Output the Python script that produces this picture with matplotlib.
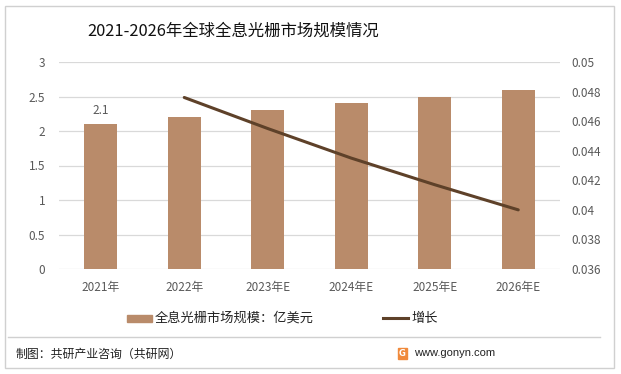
import matplotlib
matplotlib.use("Agg")
import matplotlib.pyplot as plt
from matplotlib.patches import Rectangle
from matplotlib.lines import Line2D

plt.rcParams['font.family'] = ['Noto Sans CJK SC', 'DejaVu Sans']

categories = ["2021年", "2022年", "2023年E", "2024年E", "2025年E", "2026年E"]
market_size = [2.1, 2.2, 2.3, 2.4, 2.5, 2.6]
growth_cats = ["2022年", "2023年E", "2024年E", "2025年E", "2026年E"]
growth = [0.0476, 0.0455, 0.0435, 0.0417, 0.0400]
left_ticks = [0, 0.5, 1, 1.5, 2, 2.5, 3]
right_ticks = [0.036, 0.038, 0.04, 0.042, 0.044, 0.046, 0.048, 0.05]

bar_color = "#B98B6A"
line_color = "#5E4129"
grid_color = "#D9D9D9"
tick_color = "#595959"

W, H = 621, 374
fig = plt.figure(figsize=(W / 100, H / 100), dpi=100)
fig.patch.set_facecolor("white")

# outer border
fig.add_artist(Rectangle((5 / W, 6 / H), 609 / W, 362 / H, transform=fig.transFigure,
                         fill=False, edgecolor="#D0D0D0", linewidth=1.0))

ax = fig.add_axes([59 / W, 1 - 269 / H, 501 / W, 207 / H])
x = list(range(len(categories)))
ax.bar(x, market_size, width=0.4, color=bar_color, zorder=2)
ax.set_xlim(-0.5, len(categories) - 0.5)
ax.set_ylim(0, 3)
ax.set_yticks(left_ticks)
ax.set_yticklabels([f"{t:g}" for t in left_ticks])
ax.set_xticks(x)
ax.set_xticklabels(categories)
ax.tick_params(axis="both", length=0, colors=tick_color, labelsize=8.5)
ax.tick_params(axis="x", pad=9)
ax.tick_params(axis="y", pad=10)
ax.grid(axis="y", color=grid_color, linewidth=0.9, zorder=0)
for s in ax.spines.values():
    s.set_visible(False)
ax.text(x[0], market_size[0] + 0.1, f"{market_size[0]:g}", ha="center", va="bottom",
        fontsize=8.5, color=tick_color)

ax2 = ax.twinx()
gx = [categories.index(c) for c in growth_cats]
ax2.plot(gx, growth, color=line_color, linewidth=2.2, solid_capstyle="round", zorder=3)
ax2.set_ylim(0.036, 0.05)
ax2.set_yticks(right_ticks)
ax2.set_yticklabels([f"{t:g}" for t in right_ticks])
ax2.tick_params(axis="y", length=0, colors=tick_color, labelsize=8.5, pad=8)
for s in ax2.spines.values():
    s.set_visible(False)

# title
fig.text(87 / W, 1 - 31 / H, "2021-2026年全球全息光栅市场规模情况", fontsize=11.8,
         color="#111111", va="center", ha="left")

# legend
fig.add_artist(Rectangle((127 / W, 1 - 322 / H), 25 / W, 7 / H, transform=fig.transFigure,
                         color=bar_color))
fig.text(155 / W, 1 - 318.5 / H, "全息光栅市场规模：亿美元", fontsize=9.5, color="#222222",
         va="center", ha="left")
fig.add_artist(Line2D([383 / W, 408 / W], [1 - 318 / H, 1 - 318 / H], transform=fig.transFigure,
                      color=line_color, linewidth=2.2))
fig.text(411 / W, 1 - 318.5 / H, "增长", fontsize=9.5, color="#222222", va="center", ha="left")

# footer
fig.add_artist(Line2D([8 / W, 600 / W], [1 - 337 / H, 1 - 337 / H], transform=fig.transFigure,
                      color="#D0D0D0", linewidth=1.0))
fig.text(16 / W, 1 - 354 / H, "制图：共研产业咨询（共研网）", fontsize=8.6, color="#222222",
         va="center", ha="left")
fig.add_artist(Rectangle((398 / W, 1 - 359 / H), 9 / W, 11 / H, transform=fig.transFigure,
                         color="#F08A3C"))
fig.text(402.5 / W, 1 - 353.5 / H, "G", fontsize=6, color="white", weight="bold",
         va="center", ha="center", family="DejaVu Sans")
fig.text(414 / W, 1 - 353 / H, "www.gonyn.com", fontsize=8, color="#222222",
         va="center", ha="left", family="Liberation Sans")

fig.savefig("out.png", dpi=100, facecolor="white")
